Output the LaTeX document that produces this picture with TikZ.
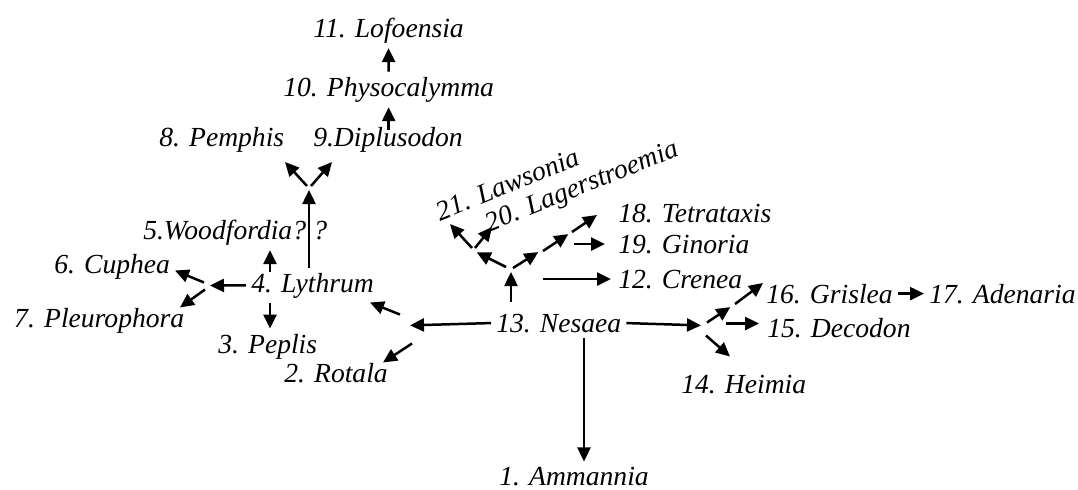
\documentclass[tikz,border=0pt]{standalone}
\usepackage{fontspec}
\setmainfont{Liberation Serif}
\usetikzlibrary{arrows.meta, positioning}
\tikzset{
  every picture/.style={line width=1.25pt},
  taxon/.style={font=\fontsize{13.8}{16}\selectfont\itshape, inner sep=2pt, anchor=base west},
  arr/.style={-{Triangle[length=7pt, width=6.5pt]}, line width=1.25pt},
}
\begin{document}
\begin{tikzpicture}[x=0.5pt, y=-0.5pt]
  \useasboundingbox (0,0) rectangle (1078,489);
  % taxa
  \node[taxon] (lofo) at (308,37) {11. Lofoensia};
  \node[taxon] (phys) at (278,96) {10. Physocalymma};
  \node[taxon] (dipl) at (308,146) {9.Diplusodon};
  \node[taxon] (pemph) at (154,146) {8. Pemphis};
  \node[taxon] (wood) at (138,239) {5.Woodfordia?};
  \node[taxon] (qm) at (308,239) {?};
  \node[taxon] (cuph) at (49,273) {6. Cuphea};
  \node[taxon] (lyth) at (246,292) {4. Lythrum};
  \node[taxon] (pleu) at (9,327) {7. Pleurophora};
  \node[taxon] (pepl) at (213,353) {3. Peplis};
  \node[taxon] (rota) at (279,382) {2. Rotala};
  \node[taxon] (nes) at (491,332) {13. Nesaea};
  \node[taxon] (amm) at (494,485) {1. Ammannia};
  \node[taxon, rotate=22] (laws) at (436,223) {21. Lawsonia};
  \node[taxon, rotate=22] (lage) at (485,234) {20. Lagerstroemia};
  \node[taxon] (tetr) at (613,222) {18. Tetrataxis};
  \node[taxon] (gino) at (613,253) {19. Ginoria};
  \node[taxon] (cren) at (613,288) {12. Crenea};
  \node[taxon] (gris) at (761,303) {16. Grislea};
  \node[taxon, right=13pt of gris] (aden) {17. Adenaria};
  \node[taxon] (deco) at (762,337) {15. Decodon};
  \node[taxon] (heim) at (676,393) {14. Heimia};
  % branch points
  \coordinate (jDip) at (309,188);
  \coordinate (jLyth) at (207,285.5);
  \coordinate (jNesL) at (406,325.5);
  \coordinate (jNesR) at (704,325.5);
  \coordinate (jNesU) at (511,270);
  \coordinate (jLaw) at (474,251);
  \coordinate (jTet1) at (540,251);
  \coordinate (jTet2) at (570,233);
  \coordinate (jGri) at (732,306);
  % upper left lineage
  \draw[arr] (phys) -- (lofo);
  \draw[arr, shorten <=-4pt] (dipl.north -| phys) -- (phys);
  \draw[arr, shorten >=1pt] (lyth.north -| jDip) -- (jDip);
  \draw[arr] (jDip) ++(-2,-2) -- ++(-22,-24);
  \draw[arr] (jDip) ++(2,-2) -- ++(21,-24);
  \draw[arr, shorten <=-2pt] ([xshift=12pt]lyth.north west) -- ([xshift=12pt]lyth.north west |- wood.south);
  \draw[arr] ([xshift=12pt]lyth.south west) -- ([xshift=12pt]lyth.south west |- pepl.north);
  \draw[arr, shorten >=1.5pt] (lyth.west) -- (jLyth);
  \draw[arr] (jLyth) ++(-3,-3) -- ++(-29,-12);
  \draw[arr] (jLyth) ++(-2,4) -- ++(-25,18);
  % Nesaea
  \draw[arr, shorten >=2pt] (nes.west) -- (jNesL);
  \draw[arr] (jNesL) ++(-6,-11) -- ++(-30,-12);
  \draw[arr] (jNesL) ++(6,18) -- ++(-29,19);
  \draw[arr] ([xshift=5pt]nes.south -| amm.north) -- ([xshift=5pt]amm.north);
  \draw[arr, shorten >=1.5pt] (nes.east) -- (jNesR);
  \draw[arr, shorten >=1pt] (jNesR) ++(3,-3) -- (jGri);
  \draw[arr] (jGri) ++(3,-2) -- ++(28,-21);
  \draw[arr] (jNesR) ++(22,-2) -- ++(33,0);
  \draw[arr] (jNesR) ++(2,10) -- ++(24,21);
  \draw[arr] (gris) -- (aden);
  \draw[arr, shorten <=3pt, shorten >=1pt] (nes.north -| jNesU) -- (jNesU);
  \draw[arr, shorten >=1.5pt] (jNesU) ++(-5,-3) -- (jLaw);
  \draw[arr] (jLaw) ++(-2,-3) -- ++(-22,-24);
  \draw[arr] (jLaw) ++(1,-3) -- ++(17,-21);
  \draw[arr, shorten >=1pt] (jNesU) ++(2,-2) -- (jTet1);
  \draw[arr, shorten >=1pt] (jTet1) ++(3,0) -- (jTet2);
  \draw[arr] (jTet2) ++(2,-1) -- ++(25,-17);
  \draw[arr, shorten <=2pt, shorten >=4pt] (gino.west -| jTet2) -- (gino.west);
  \draw[arr, shorten >=1pt] ([xshift=-35pt]cren.west) -- (cren.west);
\end{tikzpicture}
\end{document}
